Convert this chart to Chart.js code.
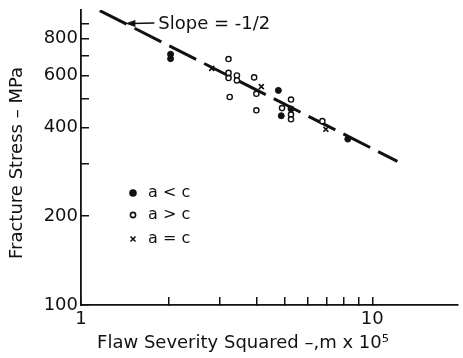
<!DOCTYPE html>
<html>
<head>
<meta charset="utf-8">
<script src="https://cdn.jsdelivr.net/npm/chart.js@4.4.1/dist/chart.umd.min.js"></script>
<style>
  html, body { margin: 0; padding: 0; background: #fff; }
  #wrap { width: 463px; height: 358px; }
</style>
</head>
<body>
<div id="wrap"><canvas id="flaw-chart" width="463" height="358"></canvas></div>
<script>
// values: x = flaw severity squared (m x 10^5), y = fracture stress (MPa)
const lessThanX = [2.03, 2.03, 4.76, 4.87, 5.26, 8.24];
const lessThanY = [708, 684, 534, 438, 462, 365];

const greaterThanX = [3.21, 3.21, 3.21, 3.43, 3.43, 3.24, 3.93, 4.00, 4.00, 5.26, 4.90, 5.26, 5.26, 6.74];
const greaterThanY = [682, 612, 588, 600, 577, 507, 591, 520, 457, 497, 465, 442, 426, 420];

const equalX = [2.81, 4.16, 6.93];
const equalY = [634, 550, 394];

const slopeLineX = [1.16, 12.2];
const slopeLineY = [995, 307];
const slopeArrowTip = [1.42, 900];
const slopeText = 'Slope = -1/2';

const xTickValues = [1, 2, 3, 4, 5, 6, 7, 8, 9, 10];
const xLabelValues = [1, 10];
const yTickValues = [100, 200, 300, 400, 500, 600, 700, 800, 900];
const yLabelValues = [100, 200, 400, 600, 800];

const xTitle = 'Flaw Severity Squared –,m x 10⁵';
const yTitle = 'Fracture Stress – MPa';

const family = '"DejaVu Sans", sans-serif';
const ink = '#111';

function toPoints(xs, ys) {
  return xs.map((x, i) => ({ x: x, y: ys[i] }));
}

// arrow + slope note, the little legend and both axis captions
const extrasPlugin = {
  id: 'extras',
  afterDraw(chart) {
    const ctx = chart.ctx;
    const sx = chart.scales.x, sy = chart.scales.y;
    const area = chart.chartArea;
    ctx.save();
    ctx.fillStyle = ink;
    ctx.strokeStyle = ink;

    const tipX = sx.getPixelForValue(slopeArrowTip[0]);
    const tipY = sy.getPixelForValue(slopeArrowTip[1]);
    ctx.lineWidth = 1.6;
    ctx.beginPath();
    ctx.moveTo(tipX + 6, tipY);
    ctx.lineTo(tipX + 29, tipY - 0.5);
    ctx.stroke();
    ctx.beginPath();
    ctx.moveTo(tipX, tipY);
    ctx.lineTo(tipX + 10, tipY - 3.5);
    ctx.lineTo(tipX + 10, tipY + 3.5);
    ctx.closePath();
    ctx.fill();
    ctx.font = '18px ' + family;
    ctx.textAlign = 'left';
    ctx.textBaseline = 'middle';
    ctx.fillText(slopeText, tipX + 33, tipY + 1);

    // legend
    const rows = [area.top + 183, area.top + 205, area.top + 229];
    ctx.font = '16px ' + family;
    [0, 1, 2].forEach((di, i) => {
      const ds = chart.data.datasets[di];
      ctx.fillStyle = ds.backgroundColor || '#fff';
      ctx.strokeStyle = ds.borderColor;
      Chart.helpers.drawPoint(ctx, {
        pointStyle: ds.pointStyle, radius: ds.pointRadius,
        borderWidth: ds.borderWidth, rotation: 0
      }, area.left + 52, rows[i]);
      ctx.fillStyle = ink;
      ctx.fillText(ds.label, area.left + 67, rows[i]);
    });

    // axis captions
    ctx.font = '18px ' + family;
    ctx.textAlign = 'center';
    ctx.fillText(xTitle, area.left + 162, area.bottom + 38);
    ctx.translate(17, area.top + 153);
    ctx.rotate(-Math.PI / 2);
    ctx.fillText(yTitle, 0, 0);
    ctx.restore();
  }
};

new Chart(document.getElementById('flaw-chart'), {
  type: 'scatter',
  data: {
    datasets: [
      {
        label: 'a < c',
        data: toPoints(lessThanX, lessThanY),
        pointStyle: 'circle', pointRadius: 3,
        backgroundColor: ink, borderColor: ink, borderWidth: 1
      },
      {
        label: 'a > c',
        data: toPoints(greaterThanX, greaterThanY),
        pointStyle: 'circle', pointRadius: 2.6,
        backgroundColor: '#fff', borderColor: ink, borderWidth: 1.4
      },
      {
        label: 'a = c',
        data: toPoints(equalX, equalY),
        pointStyle: 'crossRot', pointRadius: 3.5,
        borderColor: ink, borderWidth: 1.6
      },
      {
        label: 'slope',
        type: 'line',
        data: toPoints(slopeLineX, slopeLineY),
        showLine: true, fill: false,
        borderColor: ink, borderWidth: 3,
        borderDash: [30, 9],
        pointRadius: 0
      }
    ]
  },
  options: {
    responsive: false,
    animation: false,
    devicePixelRatio: 1,
    layout: { padding: { top: 10, right: 0, bottom: 0, left: 0 } },
    plugins: {
      legend: { display: false },
      tooltip: { enabled: false }
    },
    scales: {
      x: {
        type: 'logarithmic',
        min: 1,
        max: 19.6,
        afterFit(scale) {
          scale.height = 53;
          scale.paddingLeft = 0;
          scale.paddingRight = 0;
        },
        afterBuildTicks(scale) { scale.ticks = xTickValues.map(v => ({ value: v })); },
        border: { color: ink, width: 1.8 },
        grid: { drawOnChartArea: false, drawTicks: true, tickLength: -8, color: ink, lineWidth: 1.5 },
        ticks: {
          autoSkip: false, maxRotation: 0, padding: 12, color: ink,
          font: { family: family, size: 18 },
          callback: (v) => xLabelValues.includes(v) ? String(v) : ''
        }
      },
      y: {
        type: 'logarithmic',
        min: 100,
        max: 1000,
        afterFit(scale) {
          scale.width = 81;
          scale.paddingTop = 0;
          scale.paddingBottom = 0;
        },
        afterBuildTicks(scale) { scale.ticks = yTickValues.map(v => ({ value: v })); },
        border: { color: ink, width: 1.8 },
        grid: { drawOnChartArea: false, drawTicks: true, tickLength: -8, color: ink, lineWidth: 1.5 },
        ticks: {
          autoSkip: false, padding: 11, color: ink,
          font: { family: family, size: 18 },
          callback: (v) => yLabelValues.includes(v) ? String(v) : ''
        }
      }
    }
  },
  plugins: [extrasPlugin]
});
</script>
</body>
</html>
